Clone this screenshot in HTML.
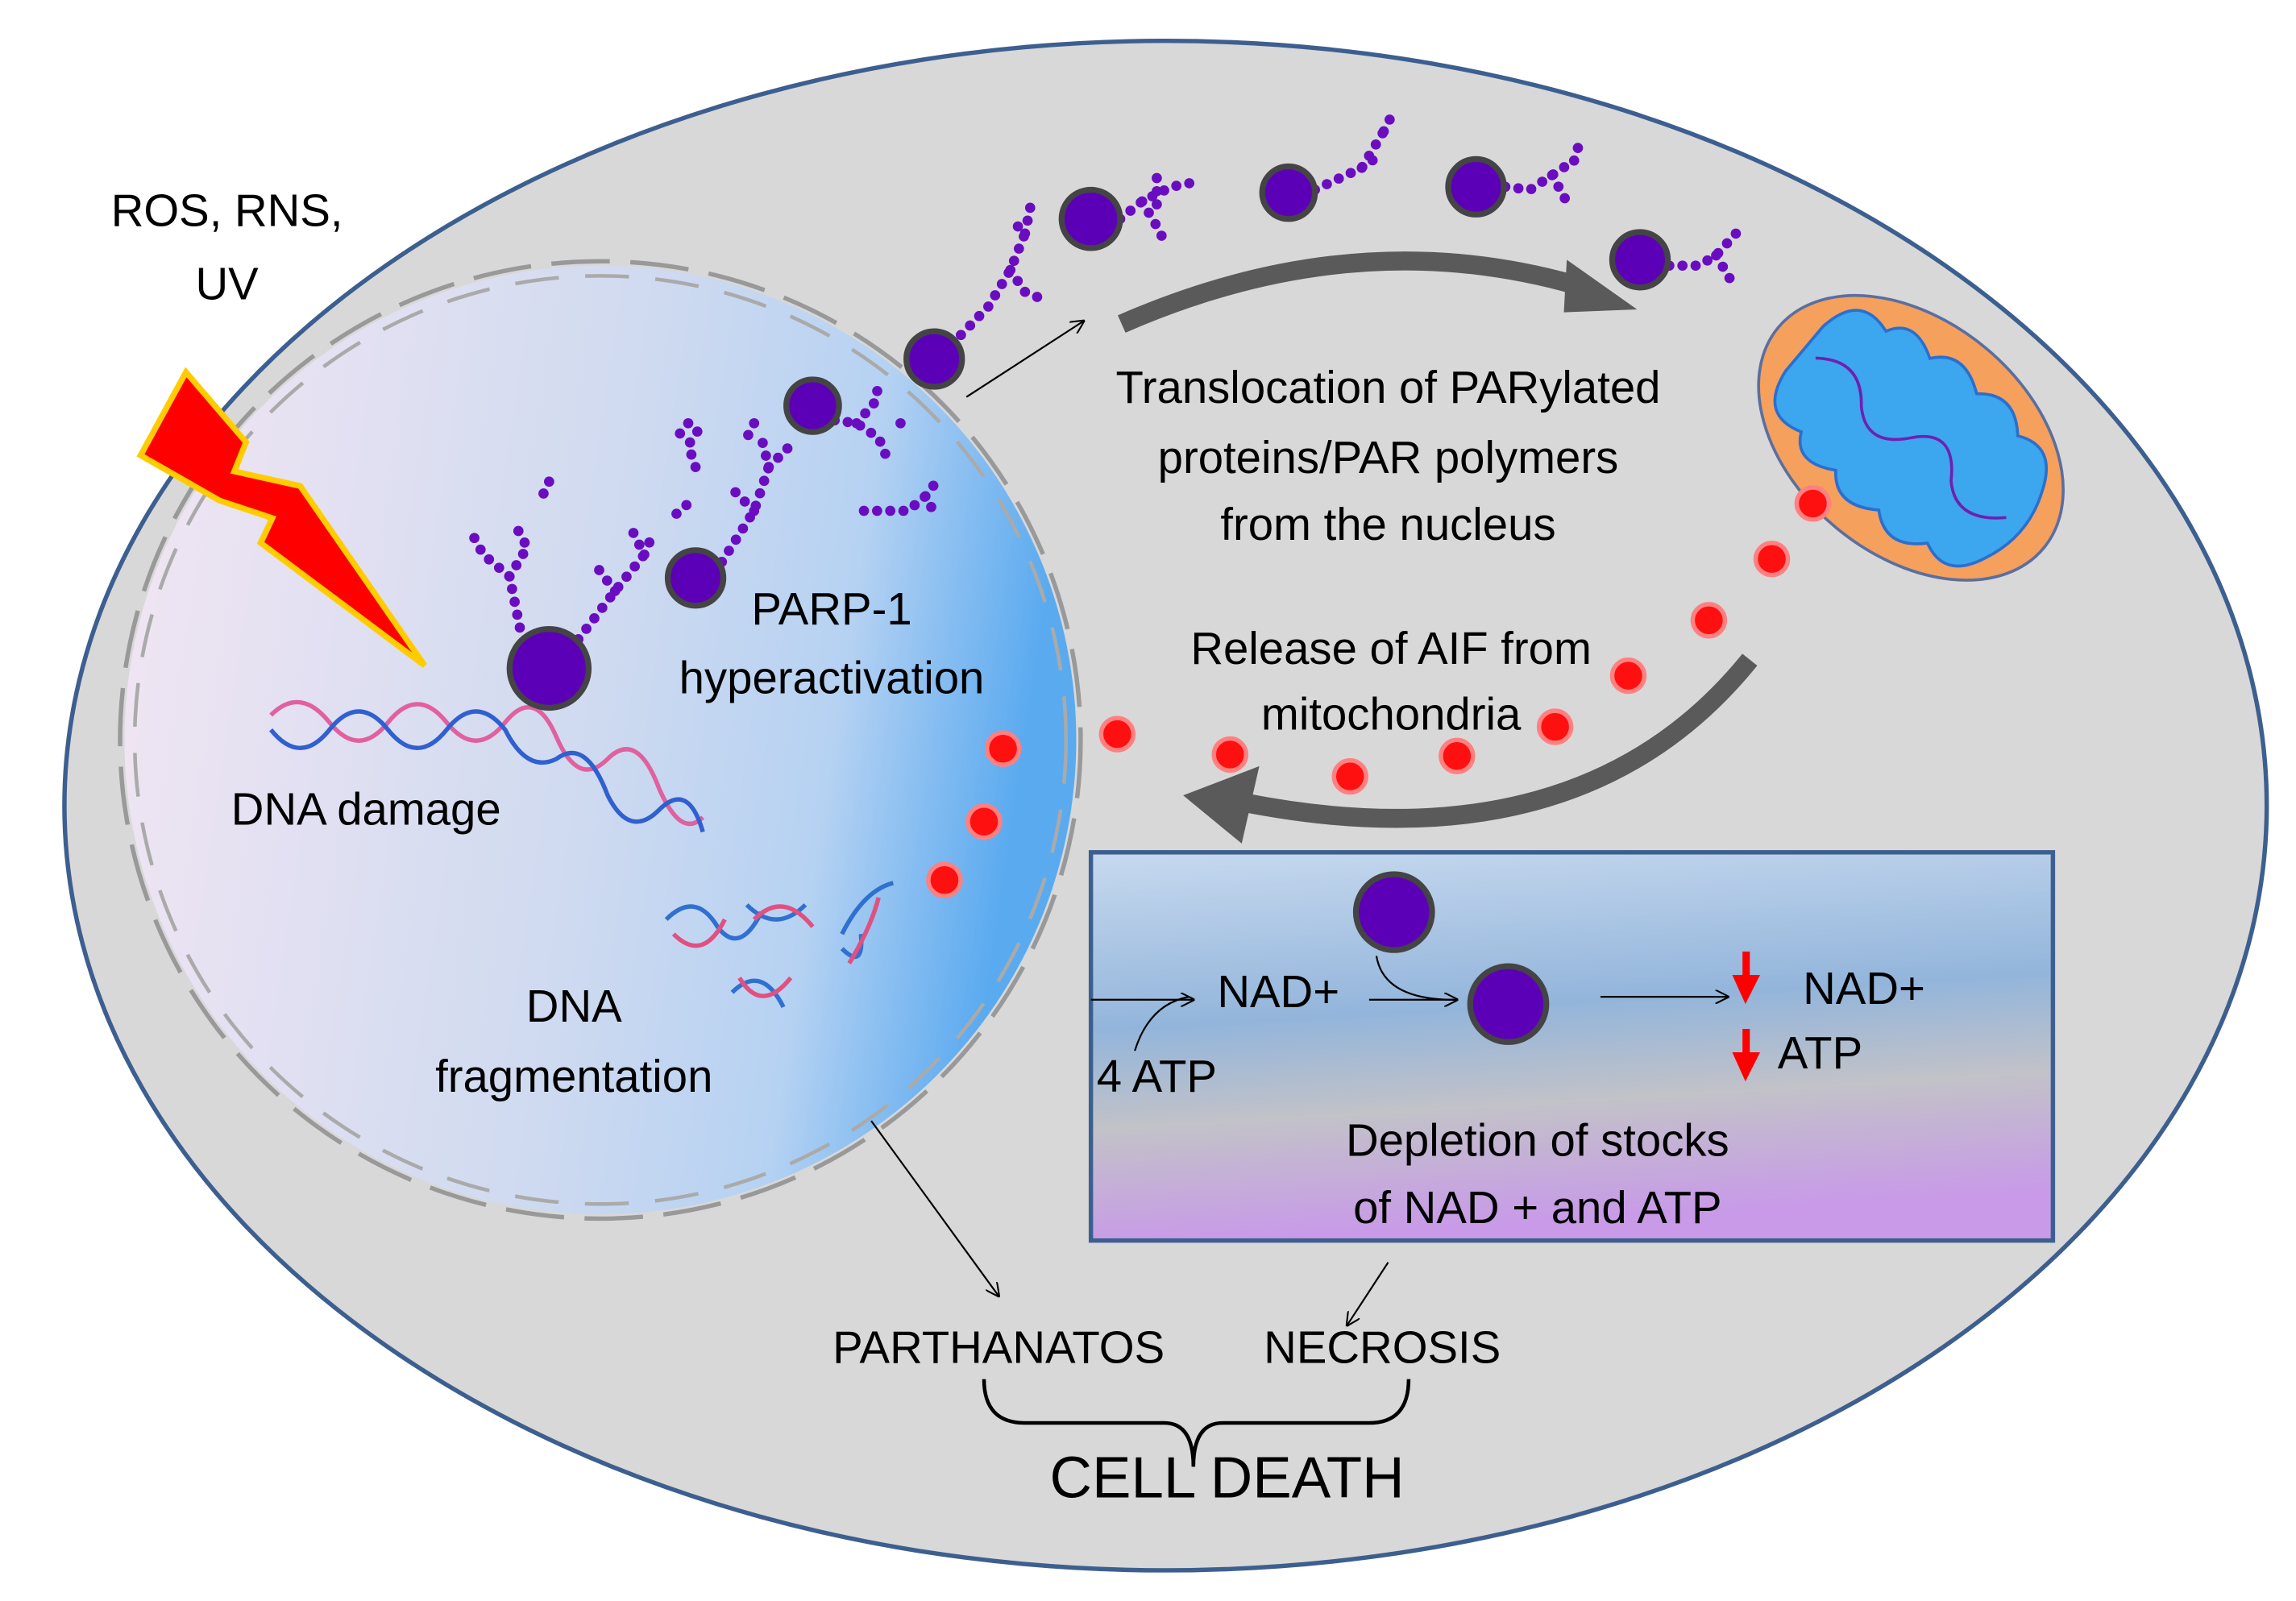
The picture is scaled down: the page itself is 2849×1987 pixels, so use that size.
<!DOCTYPE html>
<html><head><meta charset="utf-8"><style>html,body{margin:0;padding:0;background:#fff}svg{display:block}</style></head>
<body>
<svg width="2849" height="1987" viewBox="0 0 1568 1097" preserveAspectRatio="none" xmlns="http://www.w3.org/2000/svg">
<defs>
<linearGradient id="nuc" x1="0" y1="0" x2="1" y2="0.15">
<stop offset="0" stop-color="#f3e6f3"/><stop offset="0.55" stop-color="#cfdaf0"/><stop offset="0.8" stop-color="#b6d2f2"/><stop offset="1" stop-color="#5aaaf0"/>
</linearGradient>
<linearGradient id="box" x1="0" y1="0" x2="0.15" y2="1">
<stop offset="0" stop-color="#c7d9ef"/><stop offset="0.45" stop-color="#93b5db"/><stop offset="0.7" stop-color="#c2c2c8"/><stop offset="1" stop-color="#c89ae8"/>
</linearGradient>
<marker id="ah" viewBox="0 0 10 10" refX="9" refY="5" markerWidth="8" markerHeight="8" orient="auto"><path d="M0,0 L10,5 L0,10" fill="none" stroke="#000" stroke-width="1.2"/></marker>
</defs>
<rect width="1568" height="1097" fill="#fff"/>
<ellipse cx="796" cy="552" rx="752" ry="524" fill="#d8d8d8" stroke="#3d5f8f" stroke-width="3"/>
<!-- nucleus -->
<circle cx="410" cy="507" r="325" fill="url(#nuc)"/>
<circle cx="410" cy="507" r="328" fill="none" stroke="#999" stroke-width="3" stroke-dasharray="40 14"/>
<circle cx="410" cy="507" r="318" fill="none" stroke="#aaa" stroke-width="2.5" stroke-dasharray="30 18"/>
<!-- lightning -->
<polygon points="96,312 127,255 168,303 160,323 205,333 290,456 178,372 186,355 150,343" fill="#f00" stroke="#ffcc00" stroke-width="4" stroke-linejoin="miter"/>
<!-- big arrows -->
<path d="M766,222 Q930,150 1085,198" fill="none" stroke="#5a5a5a" stroke-width="13"/>
<polygon points="1070,178 1118,212 1068,214" fill="#5a5a5a"/>
<path d="M1195,452 Q1080,595 850,550" fill="none" stroke="#5a5a5a" stroke-width="13"/>
<polygon points="860,525 808,545 848,578" fill="#5a5a5a"/>
<!-- mitochondrion -->
<g transform="translate(1305,300) rotate(40)">
<ellipse rx="118" ry="80" fill="#f5a05c" stroke="#5a6fa0" stroke-width="2"/>
<path d="M-95,-20 Q-90,-55 -60,-45 Q-50,-65 -25,-50 Q-10,-70 15,-52 Q35,-70 55,-48 Q80,-60 92,-30 Q105,0 92,30 Q80,60 55,48 Q35,70 15,52 Q-10,70 -25,50 Q-50,65 -60,45 Q-90,55 -95,20 Z" fill="#3ca6ee" stroke="#2a6fd0" stroke-width="2"/>
<path d="M-85,0 Q-60,-20 -40,5 Q-20,25 0,0 Q20,-25 40,5 Q60,25 85,0" fill="none" stroke="#7020b0" stroke-width="2"/>
</g>
<!-- red dots -->
<g fill="#ff1010" stroke="#ff8080" stroke-width="3">
<circle cx="1238" cy="345" r="11"/><circle cx="1210" cy="383" r="11"/><circle cx="1167" cy="425" r="11"/><circle cx="1112" cy="463" r="11"/><circle cx="1062" cy="498" r="11"/><circle cx="995" cy="518" r="11"/><circle cx="922" cy="532" r="11"/><circle cx="840" cy="517" r="11"/><circle cx="763" cy="503" r="11"/><circle cx="685" cy="513" r="11"/><circle cx="672" cy="563" r="11"/><circle cx="645" cy="603" r="11"/>
</g>
<!-- DNA -->
<g fill="none" stroke-width="3">
<path d="M185,490 Q205,470 225,495 Q245,520 265,495 Q285,470 305,495 Q325,520 345,495 Q365,470 380,505 Q395,540 415,520 Q435,500 450,540 Q465,575 480,560" stroke="#e060a0"/>
<path d="M185,500 Q205,525 225,500 Q245,475 265,500 Q285,525 305,500 Q325,475 345,500 Q360,530 380,520 Q400,505 415,545 Q430,575 450,555 Q470,535 480,570" stroke="#3060d0"/>
<path d="M455,630 Q475,610 490,635 Q505,655 520,625 M500,680 Q520,660 535,690 M510,620 Q530,640 550,620 M575,640 Q590,610 610,605 M575,650 Q590,665 588,640" stroke="#3070d0"/>
<path d="M460,640 Q480,660 495,630 M505,670 Q520,695 540,670 M515,630 Q535,610 555,635 M580,660 Q595,635 600,615" stroke="#e05080"/>
</g>
<!-- PAR molecules -->
<g fill="none" stroke="#6a0dc0" stroke-width="7" stroke-linecap="round" stroke-dasharray="0 9">
<path d="M355,430 L348,395 L330,380 L322,365 M348,395 L360,375 L352,360"/>
<path d="M395,438 L420,405 L440,380 L430,360 M420,405 L405,385 M440,380 L445,368"/>
<path d="M493,385 L515,350 L525,320 L520,300 M515,350 L500,335 M525,320 L540,305"/>
<path d="M475,320 L470,305 L480,290 M470,290 L462,300 M515,290 L510,300 M375,330 L368,345 M462,352 L470,345"/>
<path d="M570,288 L585,290 L600,300 L605,312 M585,290 L598,275 L600,262 M615,290 L612,290"/>
<path d="M590,350 L620,350 L632,340 L640,355 M632,340 L638,332"/>
<path d="M650,236 L675,210 L690,185 L700,160 L690,150 M690,185 L700,200 L712,205 M700,160 L705,135"/>
<path d="M765,150 L780,138 L800,128 L815,125 M780,138 L790,155 L795,165 M790,140 L790,120"/>
<path d="M898,130 L915,122 L930,115 L945,90 M930,115 L940,108 M945,90 L950,80"/>
<path d="M1028,128 L1045,130 L1060,120 L1075,110 M1060,120 L1072,142 M1075,110 L1078,100"/>
<path d="M1140,182 L1160,182 L1172,175 L1190,155 M1172,175 L1182,192"/>
<path d="M1052,675 L1070,650 L1085,630 L1095,608 M1085,630 L1105,650"/>
</g>
<g fill="#5c00b8" stroke="#444" stroke-width="4">
<circle cx="375" cy="458" r="27"/><circle cx="475" cy="396" r="19"/><circle cx="555" cy="278" r="18"/><circle cx="638" cy="246" r="19"/>
<circle cx="745" cy="150" r="20"/><circle cx="880" cy="132" r="18"/><circle cx="1008" cy="128" r="19"/><circle cx="1120" cy="178" r="19"/>
</g>
<!-- thin arrows -->
<g stroke="#000" stroke-width="1.2" fill="none">
<line x1="660" y1="272" x2="740" y2="220" marker-end="url(#ah)"/>
<line x1="595" y1="768" x2="682" y2="888" marker-end="url(#ah)"/>
<line x1="948" y1="865" x2="920" y2="908" marker-end="url(#ah)"/>
</g>
<!-- box -->
<rect x="745" y="584" width="657" height="266" fill="url(#box)" stroke="#3d5f8f" stroke-width="3"/>
<g stroke="#000" stroke-width="1.2" fill="none">
<line x1="745" y1="685" x2="815" y2="685" marker-end="url(#ah)"/>
<path d="M775,720 Q785,688 812,683"/>
<line x1="935" y1="685" x2="995" y2="685" marker-end="url(#ah)"/>
<path d="M940,655 Q945,685 993,685"/>
<line x1="1093" y1="683" x2="1180" y2="683" marker-end="url(#ah)"/>
</g>
<g fill="#5c00b8" stroke="#444" stroke-width="4"><circle cx="952" cy="625" r="26"/><circle cx="1030" cy="688" r="26"/></g>
<g fill="#ff0000"><rect x="1190" y="652" width="5" height="20"/><polygon points="1183,668 1202,668 1192,688"/><rect x="1190" y="705" width="5" height="20"/><polygon points="1183,721 1202,721 1192,741"/></g>
<!-- bracket -->
<path d="M672,945 Q672,975 700,975 L795,975 Q815,975 815,1005 Q815,975 835,975 L935,975 Q962,975 962,945" fill="none" stroke="#000" stroke-width="2.5"/>
<!-- text -->
<g font-family="'Liberation Sans Narrow','Liberation Sans',sans-serif" font-size="31" fill="#000" text-anchor="middle">
<text x="155" y="155">ROS, RNS,</text><text x="155" y="205">UV</text>
<text x="568" y="428">PARP-1</text><text x="568" y="475">hyperactivation</text>
<text x="250" y="565">DNA damage</text>
<text x="392" y="700">DNA</text><text x="392" y="748">fragmentation</text>
<text x="948" y="276">Translocation of PARylated</text>
<text x="948" y="324">proteins/PAR polymers</text>
<text x="948" y="370">from the nucleus</text>
<text x="950" y="455">Release of AIF from</text>
<text x="950" y="500">mitochondria</text>
<text x="873" y="690">NAD+</text><text x="790" y="748">4 ATP</text>
<text x="1273" y="688">NAD+</text><text x="1243" y="732">ATP</text>
<text x="1050" y="792">Depletion of stocks</text><text x="1050" y="838">of NAD + and ATP</text>
<text x="682" y="934">PARTHANATOS</text><text x="944" y="934">NECROSIS</text>
<text x="838" y="1026" font-size="40">CELL DEATH</text>
</g>
</svg>
</body></html>
